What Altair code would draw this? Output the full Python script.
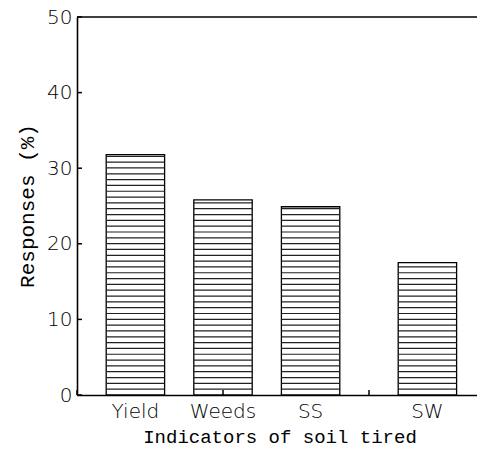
import altair as alt
import numpy as np
import pandas as pd

# Survey responses per indicator of soil tiredness
categories = ["Yield", "Weeds", "SS", "SW"]
positions = [0.4, 1.0, 1.6, 2.4]
responses = [31.8, 25.8, 24.9, 17.5]

y_ticks = [0, 10, 20, 30, 40, 50]
x_ticks = [0, 1, 2]

x_title = "Indicators of soil tired"
y_title = "Responses (%)"

W, H = 400, 378
HALF_BAR = 0.2
HATCH_STEP = 0.77

bars = pd.DataFrame({"cat": categories, "pos": positions, "val": responses})

# horizontal hatching lines inside each bar
hatch_rows = []
for c, p, v in zip(categories, positions, responses):
    for lvl in np.arange(HATCH_STEP, v, HATCH_STEP):
        hatch_rows.append({"cat": c, "pos": p, "lvl": float(lvl)})
hatch = pd.DataFrame(hatch_rows)

xscale = alt.Scale(domain=[0, W / 146], nice=False, zero=False)
yscale = alt.Scale(domain=[0, 50], nice=False)

SANS = "DejaVu Sans"
MONO = "Liberation Mono"

x_axis = alt.Axis(
    labels=False, ticks=False, grid=False, title=None,
    domainColor="black", domainWidth=1.6,
)
y_axis = alt.Axis(
    values=y_ticks, ticks=False, grid=False, title=None,
    domainColor="black", domainWidth=1.6,
    labelFont=SANS, labelFontSize=20, labelColor="black",
    labelPadding=5, labelFontWeight=200,
)

bar_layer = (
    alt.Chart(bars)
    .transform_calculate(left=f"datum.pos - {HALF_BAR}", right=f"datum.pos + {HALF_BAR}")
    .mark_rect(fill="white", stroke="black", strokeWidth=1.3)
    .encode(
        x=alt.X("left:Q", scale=xscale, axis=x_axis),
        x2="right:Q",
        y=alt.Y("val:Q", scale=yscale, axis=y_axis),
        y2=alt.datum(0),
    )
)

hatch_layer = (
    alt.Chart(hatch)
    .transform_calculate(left=f"datum.pos - {HALF_BAR}", right=f"datum.pos + {HALF_BAR}")
    .mark_rule(color="#222222", strokeWidth=1.2)
    .encode(
        x=alt.X("left:Q", scale=xscale, axis=x_axis),
        x2="right:Q",
        y=alt.Y("lvl:Q", scale=yscale, axis=y_axis),
    )
)

# category names under each bar
name_layer = (
    alt.Chart(bars)
    .mark_text(font=SANS, fontSize=20, fontWeight=200, color="black",
               baseline="alphabetic", align="center")
    .encode(
        x=alt.X("pos:Q", scale=xscale, axis=x_axis),
        y=alt.value(H + 23),
        text="cat:N",
    )
)

# axis titles
xtitle_layer = (
    alt.Chart(pd.DataFrame({"t": [x_title]}))
    .mark_text(font=MONO, fontSize=19, fontWeight="normal", color="black",
               baseline="alphabetic", align="center")
    .encode(x=alt.value(203), y=alt.value(H + 48), text="t:N")
)
ytitle_layer = (
    alt.Chart(pd.DataFrame({"t": [y_title]}))
    .mark_text(font=MONO, fontSize=21, fontWeight="normal", color="black",
               baseline="middle", align="center", angle=270)
    .encode(x=alt.value(-49), y=alt.value(189), text="t:N")
)

# inward tick marks
ytick_layer = (
    alt.Chart(pd.DataFrame({"v": y_ticks}))
    .mark_rule(color="black", strokeWidth=1.5)
    .encode(
        y=alt.Y("v:Q", scale=yscale, axis=y_axis),
        x=alt.value(0),
        x2=alt.value(5),
    )
)
xtick_layer = (
    alt.Chart(pd.DataFrame({"v": x_ticks}))
    .mark_rule(color="black", strokeWidth=1.5)
    .encode(
        x=alt.X("v:Q", scale=xscale, axis=x_axis),
        y=alt.value(H),
        y2=alt.value(H - 5),
    )
)

# top frame line
top_layer = (
    alt.Chart(pd.DataFrame({"v": [50]}))
    .mark_rule(color="black", strokeWidth=1.6)
    .encode(
        y=alt.Y("v:Q", scale=yscale, axis=y_axis),
        x=alt.value(0),
        x2=alt.value(W),
    )
)

chart = (
    alt.layer(bar_layer, hatch_layer, name_layer, xtitle_layer, ytitle_layer,
              ytick_layer, xtick_layer, top_layer)
    .properties(
        width=W,
        height=H,
        autosize=alt.AutoSizeParams(type="none"),
        padding={"left": 77, "top": 17, "right": 0, "bottom": 54},
        background="white",
    )
    .configure_view(stroke=None)
)

chart.save("out.html", embed_options={"renderer": "svg", "actions": False})
